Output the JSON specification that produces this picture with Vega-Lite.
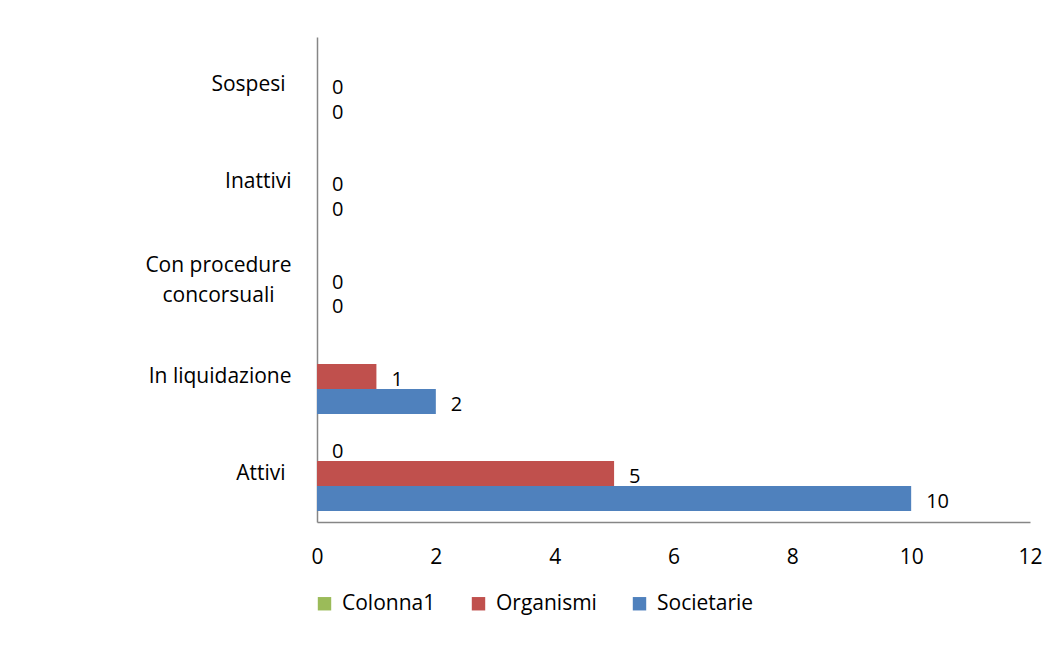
{
  "$schema": "https://vega.github.io/schema/vega-lite/v6.json",
  "autosize": {"type": "none"},
  "width": 713,
  "height": 485,
  "padding": {"left": 317, "top": 37, "right": 21, "bottom": 123},
  "background": "white",
  "config": {
    "view": {"stroke": null},
    "font": "Open Sans",
    "axis": {"labelFont": "Open Sans", "labelFontSize": 21, "labelColor": "black", "domainColor": "#868686", "domainWidth": 1.5, "ticks": false, "grid": false, "title": null}
  },
  "data": {
    "values": [
      {"stato": "Attivi", "serie": "Colonna1", "valore": 0},
      {"stato": "Attivi", "serie": "Organismi", "valore": 5},
      {"stato": "Attivi", "serie": "Societarie", "valore": 10},
      {"stato": "In liquidazione", "serie": "Organismi", "valore": 1},
      {"stato": "In liquidazione", "serie": "Societarie", "valore": 2},
      {"stato": "Con procedure concorsuali", "serie": "Organismi", "valore": 0},
      {"stato": "Con procedure concorsuali", "serie": "Societarie", "valore": 0},
      {"stato": "Inattivi", "serie": "Organismi", "valore": 0},
      {"stato": "Inattivi", "serie": "Societarie", "valore": 0},
      {"stato": "Sospesi", "serie": "Organismi", "valore": 0},
      {"stato": "Sospesi", "serie": "Societarie", "valore": 0}
    ]
  },
  "encoding": {
    "y": {
      "field": "stato", "type": "nominal",
      "scale": {"domain": ["Sospesi", "Inattivi", "Con procedure concorsuali", "In liquidazione", "Attivi"], "paddingInner": 0.227, "paddingOuter": 0.113},
      "axis": {
        "labelExpr": "datum.label == 'Con procedure concorsuali' ? ['Con procedure', 'concorsuali'] : datum.label",
        "labelLineHeight": 30,
        "labelOffset": {"condition": {"test": "datum.label == 'Con procedure concorsuali'", "value": -14}, "value": 0},
        "labelAlign": {"condition": {"test": "datum.label == 'Con procedure concorsuali'", "value": "center"}, "value": "right"},
        "labelPadding": {"condition": [{"test": "datum.label == 'Con procedure concorsuali'", "value": 99}, {"test": "datum.label == 'Sospesi' || datum.label == 'Attivi'", "value": 32}], "value": 26}
      }
    },
    "yOffset": {
      "field": "serie", "type": "nominal",
      "scale": {"domain": ["Colonna1", "Organismi", "Societarie"], "paddingInner": 0, "paddingOuter": 0}
    },
    "x": {
      "field": "valore", "type": "quantitative",
      "scale": {"domain": [0, 12], "nice": false},
      "axis": {"values": [0, 2, 4, 6, 8, 10, 12], "labelPadding": 24, "labelFlush": false}
    }
  },
  "layer": [
    {
      "mark": {"type": "bar"},
      "encoding": {
        "color": {
          "field": "serie", "type": "nominal",
          "scale": {"domain": ["Colonna1", "Organismi", "Societarie"], "range": ["#9BBB59", "#C0504D", "#4F81BD"]},
          "legend": {"orient": "none", "direction": "horizontal", "legendX": -3, "legendY": 556, "title": null, "symbolType": "square", "symbolSize": 180, "symbolStrokeWidth": 0, "labelFont": "Open Sans", "labelFontSize": 21, "labelColor": "black", "labelOffset": 7, "columnPadding": 32}
        }
      }
    },
    {
      "mark": {"type": "text", "align": "left", "baseline": "middle", "dx": 15, "dy": 3, "fontSize": 20, "font": "Open Sans", "color": "black"},
      "encoding": {"text": {"field": "valore", "type": "quantitative"}}
    }
  ]
}
